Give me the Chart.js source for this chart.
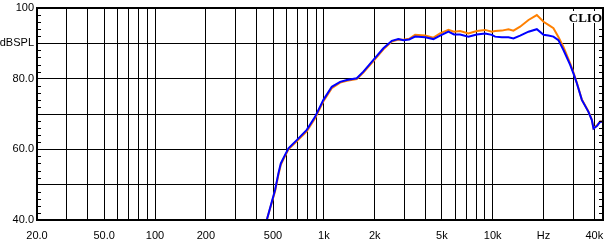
<!DOCTYPE html>
<html>
<head>
<meta charset="utf-8">
<script src="https://cdn.jsdelivr.net/npm/chart.js@4/dist/chart.umd.min.js"></script>
<style>
  html, body { margin: 0; padding: 0; background: #fff; }
  canvas { display: block; }
</style>
</head>
<body>
<canvas id="clio-chart" width="608" height="243"></canvas>
<script>
// frecuencias (Hz)
const freqs = [459, 514, 538, 556, 576, 617, 691, 792, 887, 994, 1114, 1248, 1368, 1566, 1714, 1966, 2252, 2526, 2762, 2960,
    3200, 3470, 3978, 4456, 4878, 5468, 5900, 6412, 7180, 8052, 9020, 9886, 10332, 11322, 12392, 13270, 14530, 16288,
    18252, 20000, 21380, 22892, 24500, 26240, 28760, 30062, 31500, 33718, 36900, 38640, 39540, 41380, 43260, 45000];

// curva azul (dBSPL)
const blueSpl = [40.0, 48.5, 53.2, 56.0, 57.5, 60.3, 62.6, 65.5, 69.2, 74.0, 77.7, 79.1, 79.6, 80.1, 82.0, 85.3, 88.6, 90.7, 91.2, 90.9,
    91.1, 91.9, 91.7, 91.2, 92.2, 93.3, 92.5, 92.5, 91.9, 92.5, 92.8, 92.4, 91.9, 91.7, 91.7, 91.4, 92.2, 93.3,
    94.0, 92.4, 92.2, 91.9, 90.9, 88.1, 83.9, 81.5, 78.7, 74.0, 70.6, 68.3, 65.9, 66.6, 67.8, 67.8];

// curva naranja (dBSPL)
const orangeSpl = [40.0, 48.1, 52.8, 55.6, 57.2, 60.0, 62.3, 65.1, 68.8, 73.6, 77.3, 78.9, 79.4, 79.9, 81.7, 85.0, 88.3, 90.5, 91.1, 91.0,
    91.3, 92.4, 92.2, 91.6, 92.8, 93.8, 93.3, 93.5, 92.8, 93.5, 93.8, 93.3, 93.5, 93.6, 94.0, 93.6, 94.7, 96.6,
    98.0, 96.1, 95.2, 94.3, 91.8, 89.0, 84.3, 81.8, 78.8, 74.1, 70.7, 68.4, 66.0, 66.7, 67.9, 67.9];

// lineas verticales del eje X y sus etiquetas
const xTicks = [20, 30, 40, 50, 60, 70, 80, 90, 100, 200, 300, 400, 500, 600, 700, 800, 900,
    1000, 2000, 3000, 4000, 5000, 6000, 7000, 8000, 9000, 10000, 20000, 30000, 40000];
const xLabels = { 20: '20.0', 50: '50.0', 100: '100', 200: '200', 500: '500', 1000: '1k', 2000: '2k',
    5000: '5k', 10000: '10k', 20000: 'Hz', 40000: '40k' };

const yLabels = { 100: '100', 90: 'dBSPL', 80: '80.0', 70: '', 60: '60.0', 50: '', 40: '40.0' };

const tickFont = { family: 'Liberation Sans, Arial, sans-serif', size: 11 };

// marco, marcas menores y el texto CLIO
const frame = {
    id: 'frame',
    afterDraw(chart) {
        const { ctx, chartArea: a, scales } = chart;
        ctx.save();
        ctx.strokeStyle = '#000';
        ctx.lineWidth = 1;
        ctx.beginPath();
        for (let v = 42; v < 100; v += 2) {
            if (v % 10 === 0) continue;
            const y = Math.round(scales.y.getPixelForValue(v)) + 0.5;
            ctx.moveTo(a.left, y); ctx.lineTo(a.left + 4, y);
            ctx.moveTo(a.right - 4, y); ctx.lineTo(a.right, y);
        }
        ctx.stroke();

        ctx.lineWidth = 2;
        ctx.strokeRect(a.left, a.top, a.right - a.left, a.bottom - a.top);

        ctx.font = 'bold 13px "Liberation Serif", "Times New Roman", serif';
        ctx.textAlign = 'right';
        ctx.textBaseline = 'alphabetic';
        const w = ctx.measureText('CLIO').width;
        ctx.fillStyle = '#fff';
        ctx.fillRect(a.right - 2 - w - 1, a.top + 3, w + 2, 12);
        ctx.fillStyle = '#000';
        ctx.fillText('CLIO', a.right - 1, a.top + 14);
        ctx.restore();
    }
};

new Chart(document.getElementById('clio-chart'), {
    type: 'line',
    data: {
        datasets: [{
            label: 'azul',
            data: freqs.map((f, i) => ({ x: f, y: blueSpl[i] })),
            borderColor: 'rgb(0, 0, 255)',
            borderWidth: 2,
            pointRadius: 0,
            tension: 0,
            order: 0,
        }, {
            label: 'naranja',
            data: freqs.map((f, i) => ({ x: f, y: orangeSpl[i] })),
            borderColor: 'rgb(255, 128, 0)',
            borderWidth: 2,
            pointRadius: 0,
            tension: 0,
            order: 1,
        }]
    },
    options: {
        responsive: false,
        animation: false,
        layout: { padding: { top: 8, right: 5, left: 0, bottom: 0 } },
        plugins: {
            legend: { display: false },
            tooltip: { enabled: false },
        },
        scales: {
            x: {
                type: 'logarithmic',
                min: 20,
                max: 45000,
                afterBuildTicks: (s) => { s.ticks = xTicks.map(v => ({ value: v })); },
                afterFit: (s) => { s.height = 23; s.paddingLeft = 0; s.paddingRight = 0; },
                grid: { color: '#000', lineWidth: 1, drawTicks: false },
                border: { display: false },
                ticks: {
                    autoSkip: false,
                    maxRotation: 0,
                    padding: 9,
                    color: '#000',
                    font: tickFont,
                    callback: (v) => xLabels[v] || '',
                }
            },
            y: {
                min: 40,
                max: 100,
                afterFit: (s) => { s.width = 37; s.paddingTop = 0; s.paddingBottom = 0; },
                grid: { color: '#000', lineWidth: 1, drawTicks: false },
                border: { display: false },
                ticks: {
                    stepSize: 10,
                    padding: 3,
                    color: '#000',
                    font: tickFont,
                    callback: (v) => yLabels[v],
                }
            }
        }
    },
    plugins: [frame]
});
</script>
</body>
</html>
